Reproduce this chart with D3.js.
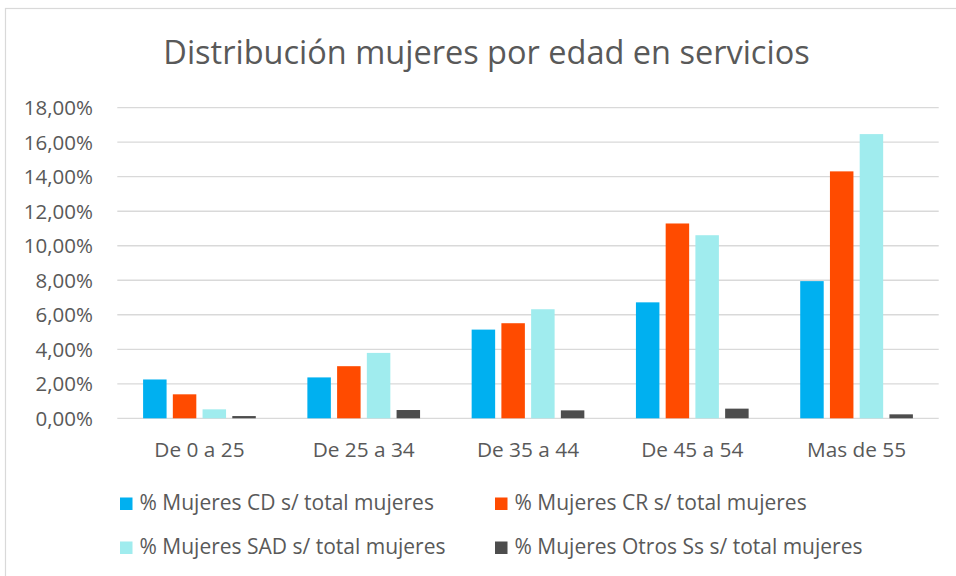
<!DOCTYPE html>
<html>
<head>
<meta charset="utf-8">
<script src="https://cdn.jsdelivr.net/npm/d3@7"></script>
<style>
  body { margin: 0; background: #fff; }
  text { font-family: "Open Sans", Lato, sans-serif; fill: #595959; }
</style>
</head>
<body>
<div id="chart"></div>
<script>
let width = 956, height = 576;
let margin = { top: 107.7, right: 17.3, bottom: 157.7, left: 117.3 };

// data
let categories = ['De 0 a 25', 'De 25 a 34', 'De 35 a 44', 'De 45 a 54', 'Mas de 55'];
let seriesNames = ['% Mujeres CD s/ total mujeres', '% Mujeres CR s/ total mujeres',
                   '% Mujeres SAD s/ total mujeres', '% Mujeres Otros Ss s/ total mujeres'];
let cd    = [0.0225, 0.0237, 0.0514, 0.0672, 0.0795];
let cr    = [0.0139, 0.0302, 0.0551, 0.1129, 0.1431];
let sad   = [0.0052, 0.0379, 0.0632, 0.1061, 0.1647];
let otros = [0.0013, 0.0048, 0.0046, 0.0056, 0.0023];
let yTicks = [0, 0.02, 0.04, 0.06, 0.08, 0.10, 0.12, 0.14, 0.16, 0.18];
let colors = ['#00B0F0', '#FF4B00', '#A0ECEE', '#4D4D4D'];

let seriesValues = [cd, cr, sad, otros];

let fmt = d3.formatLocale({ decimal: ',', thousands: '.', grouping: [3], currency: ['', '€'] }).format('.2%');

var svg = d3.select('#chart').append('svg')
  .attr('width', width)
  .attr('height', height);

// outer frame (right and bottom edges are cut off)
svg.append('rect')
  .attr('x', 5.5).attr('y', 8.5)
  .attr('width', 1000).attr('height', 1000)
  .attr('fill', 'none')
  .attr('stroke', '#d9d9d9')
  .attr('stroke-width', 1.2);

let x0 = d3.scaleBand()
  .domain(categories)
  .range([margin.left, width - margin.right])
  .paddingInner(0.314)
  .paddingOuter(0.157);

let x1 = d3.scaleBand()
  .domain(d3.range(seriesNames.length))
  .range([0, x0.bandwidth()])
  .paddingInner(0.21);

let y = d3.scaleLinear()
  .domain([0, 0.18])
  .range([height - margin.bottom, margin.top]);

// gridlines
svg.append('g')
  .selectAll('line')
  .data(yTicks)
  .enter().append('line')
  .attr('x1', margin.left)
  .attr('x2', width - margin.right)
  .attr('y1', d => y(d))
  .attr('y2', d => y(d))
  .attr('stroke', '#d9d9d9')
  .attr('stroke-width', 1.3);

// y axis labels
svg.append('g')
  .selectAll('text')
  .data(yTicks)
  .enter().append('text')
  .attr('x', 93)
  .attr('y', d => y(d) + 7.3)
  .attr('text-anchor', 'end')
  .style('font-size', '20.5px')
  .text(d => fmt(d));

// bars
let groups = svg.append('g')
  .selectAll('g')
  .data(categories)
  .enter().append('g')
  .attr('transform', d => 'translate(' + x0(d) + ',0)');

groups.selectAll('rect')
  .data((d, i) => seriesValues.map((s, k) => ({ k: k, v: s[i] })))
  .enter().append('rect')
  .attr('x', d => x1(d.k))
  .attr('y', d => y(d.v))
  .attr('width', x1.bandwidth())
  .attr('height', d => y(0) - y(d.v))
  .attr('fill', d => colors[d.k]);

// category labels
svg.append('g')
  .selectAll('text')
  .data(categories)
  .enter().append('text')
  .attr('x', d => x0(d) + x0.bandwidth() / 2)
  .attr('y', 456.7)
  .attr('text-anchor', 'middle')
  .style('font-size', '20.8px')
  .text(d => d);

// title
svg.append('text')
  .attr('x', 486.5)
  .attr('y', 64.3)
  .attr('text-anchor', 'middle')
  .style('font-size', '32.5px')
  .text('Distribución mujeres por edad en servicios');

// legend
let legendPos = [[120, 510], [495, 510], [120, 554], [495, 554]];
let legend = svg.append('g')
  .selectAll('g')
  .data(seriesNames)
  .enter().append('g')
  .attr('transform', (d, i) => 'translate(' + legendPos[i][0] + ',' + legendPos[i][1] + ')');

legend.append('rect')
  .attr('x', 0).attr('y', -12.5)
  .attr('width', 12.5).attr('height', 12.5)
  .attr('fill', (d, i) => colors[i]);

legend.append('text')
  .attr('x', 19.5)
  .attr('y', 0)
  .style('font-size', '21px')
  .text(d => d);
</script>
</body>
</html>
